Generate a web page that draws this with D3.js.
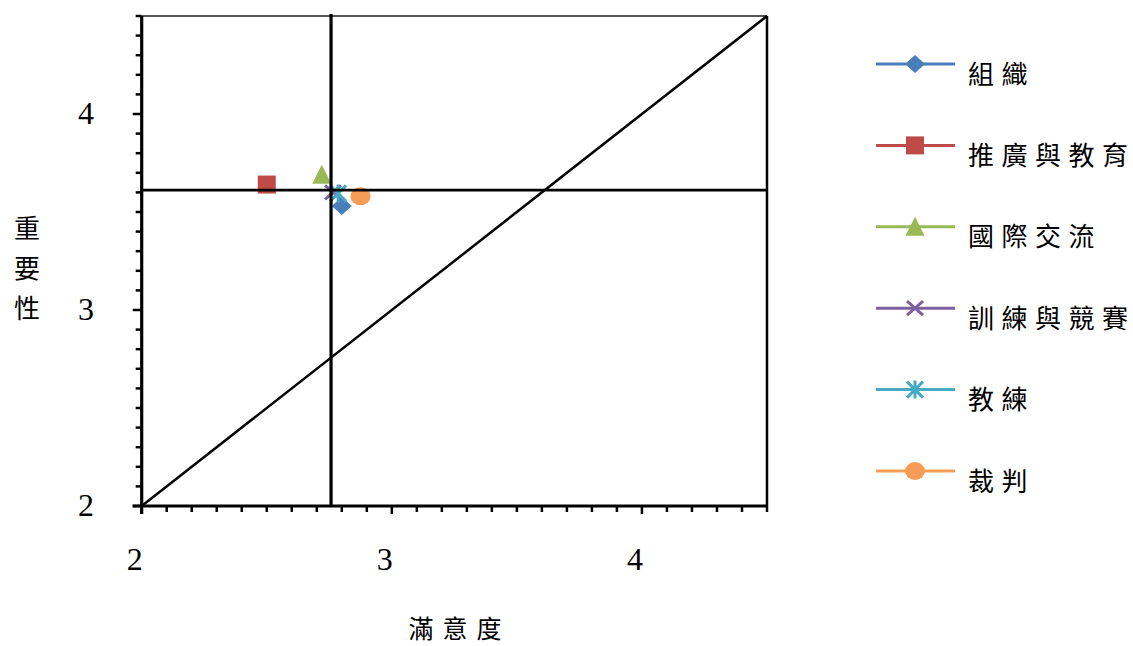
<!DOCTYPE html>
<html>
<head>
<meta charset="utf-8">
<script src="https://cdn.jsdelivr.net/npm/d3@7/dist/d3.min.js"></script>
<style>
html,body{margin:0;padding:0;background:#fff;}
svg{display:block;}
</style>
</head>
<body>
<svg id="chart" width="1133" height="646"></svg>
<script>
// ---- data ----
const seriesNames = ["組織","推廣與教育","國際交流","訓練與競賽","教練","裁判"];
const satisfaction = [2.80, 2.50, 2.72, 2.765, 2.785, 2.875];   // 滿意度 (x)
const importance   = [3.53, 3.64, 3.69, 3.60, 3.595, 3.58];     // 重要性 (y)
const meanSatisfaction = 2.757;
const meanImportance = 3.612;
const xTickLabels = [2, 3, 4];
const yTickLabels = [2, 3, 4];
const axisDomain = [2, 4.5];
const xTitle = "滿意度";
const yTitle = "重要性";

// ---- styles ----
const colors = ["#4A7EBB","#BE4B48","#98B954","#7D60A0","#46AAC5","#F59D56"];
const shapes = ["diamond","square","triangle","x","asterisk","circle"];

const svg = d3.select("#chart");
const x = d3.scaleLinear().domain(axisDomain).range([141.7, 767]);
const y = d3.scaleLinear().domain(axisDomain).range([506, 16]);

function drawMarker(g, shape, color) {
  if (shape === "diamond") {
    g.append("path").attr("d","M0,-9L10,0L0,9L-10,0Z").attr("fill",color);
  } else if (shape === "square") {
    g.append("rect").attr("x",-9).attr("y",-9).attr("width",18).attr("height",18).attr("fill",color);
  } else if (shape === "triangle") {
    g.append("path").attr("d","M0,-10L9.5,9L-9.5,9Z").attr("fill",color);
  } else if (shape === "x") {
    g.append("path").attr("d","M-8,-7L8,7M-8,7L8,-7").attr("stroke",color).attr("stroke-width",3).attr("fill","none");
  } else if (shape === "asterisk") {
    g.append("path").attr("d","M-8,-8L8,8M-8,8L8,-8M0,-9L0,9").attr("stroke",color).attr("stroke-width",3).attr("fill","none");
  } else if (shape === "circle") {
    g.append("ellipse").attr("rx",10).attr("ry",9).attr("fill",color);
  }
}

// ---- minor/major ticks ----
const minor = d3.range(20, 46).map(d => d / 10);
const tickG = svg.append("g");
minor.forEach(v => {
  const major = Math.abs(v - Math.round(v)) < 1e-9 && v < 4.5;
  tickG.append("line")
    .attr("x1", x(2) - (major ? 9 : 6)).attr("x2", x(2))
    .attr("y1", y(v)).attr("y2", y(v))
    .attr("stroke","#000").attr("stroke-width",2.5);
  tickG.append("line")
    .attr("x1", x(v)).attr("x2", x(v))
    .attr("y1", y(2)).attr("y2", y(2) + (major ? 8 : 6))
    .attr("stroke","#000").attr("stroke-width",2.5);
});

// plot frame: top and right
svg.append("line").attr("x1",x(2)).attr("x2",x(4.5)).attr("y1",y(4.5)).attr("y2",y(4.5))
  .attr("stroke","#555").attr("stroke-width",2);
svg.append("line").attr("x1",x(4.5)).attr("x2",x(4.5)).attr("y1",y(4.5)).attr("y2",y(2))
  .attr("stroke","#000").attr("stroke-width",2.5);

// ---- markers ----
const pts = svg.append("g");
seriesNames.forEach((name, i) => {
  const g = pts.append("g").attr("transform", `translate(${x(satisfaction[i])},${y(importance[i])})`);
  drawMarker(g, shapes[i], colors[i]);
});

// ---- reference lines (on top) ----
svg.append("line").attr("x1",x(2)).attr("y1",y(2)).attr("x2",x(4.5)).attr("y2",y(4.5))
  .attr("stroke","#000").attr("stroke-width",2.5);
svg.append("line").attr("x1",x(2)).attr("x2",x(4.5)).attr("y1",y(meanImportance)).attr("y2",y(meanImportance))
  .attr("stroke","#000").attr("stroke-width",2.8);
svg.append("line").attr("x1",x(meanSatisfaction)).attr("x2",x(meanSatisfaction)).attr("y1",y(4.5)-2).attr("y2",y(2))
  .attr("stroke","#000").attr("stroke-width",3.2);

// axes lines
svg.append("line").attr("x1",x(2)).attr("x2",x(2)).attr("y1",y(4.5)).attr("y2",y(2)+8)
  .attr("stroke","#000").attr("stroke-width",3.2);
svg.append("line").attr("x1",x(2)-9).attr("x2",x(4.5)+1).attr("y1",y(2)).attr("y2",y(2))
  .attr("stroke","#000").attr("stroke-width",3.2);

// tick labels
const numFont = "'Liberation Serif', 'DejaVu Serif', serif";
svg.append("g").selectAll("text").data(xTickLabels).join("text")
  .attr("x", d => x(d) - 7).attr("y", 559)
  .attr("text-anchor","middle").attr("dominant-baseline","central")
  .attr("font-family", numFont).attr("font-size", 32).attr("fill","#000")
  .text(d => d);
svg.append("g").selectAll("text").data(yTickLabels).join("text")
  .attr("x", 86).attr("y", d => y(d) - 1)
  .attr("text-anchor","middle").attr("dominant-baseline","central")
  .attr("font-family", numFont).attr("font-size", 32).attr("fill","#000")
  .text(d => d);

// axis titles (each character placed individually to mimic wide spacing)
const cjkFont = "'Noto Sans CJK TC', 'Noto Sans CJK SC', sans-serif";
svg.append("g").selectAll("text").data(Array.from(xTitle)).join("text")
  .attr("x", (d, i) => 421 + i * 34).attr("y", 627)
  .attr("text-anchor","middle").attr("dominant-baseline","central")
  .attr("font-family", cjkFont).attr("font-size", 25)
  .text(d => d);
svg.append("g").selectAll("text").data(Array.from(yTitle)).join("text")
  .attr("x", 27).attr("y", (d, i) => 226 + i * 40)
  .attr("text-anchor","middle").attr("dominant-baseline","central")
  .attr("font-family", cjkFont).attr("font-size", 26)
  .text(d => d);

// legend
const legend = svg.append("g");
seriesNames.forEach((name, i) => {
  const ly = 64 + i * 81.4;
  const g = legend.append("g").attr("transform", `translate(0,${ly})`);
  g.append("line").attr("x1",876).attr("x2",955).attr("y1",0).attr("y2",0)
    .attr("stroke", colors[i]).attr("stroke-width",3);
  const m = g.append("g").attr("transform","translate(915,0)");
  drawMarker(m, shapes[i], colors[i]);
  g.append("g").selectAll("text").data(Array.from(name)).join("text")
    .attr("x", (d, j) => 981 + j * 33.5).attr("y", 8)
    .attr("text-anchor","middle").attr("dominant-baseline","central")
    .attr("font-family", cjkFont).attr("font-size", 26)
    .attr("fill","#000").text(d => d);
});
</script>
</body>
</html>
